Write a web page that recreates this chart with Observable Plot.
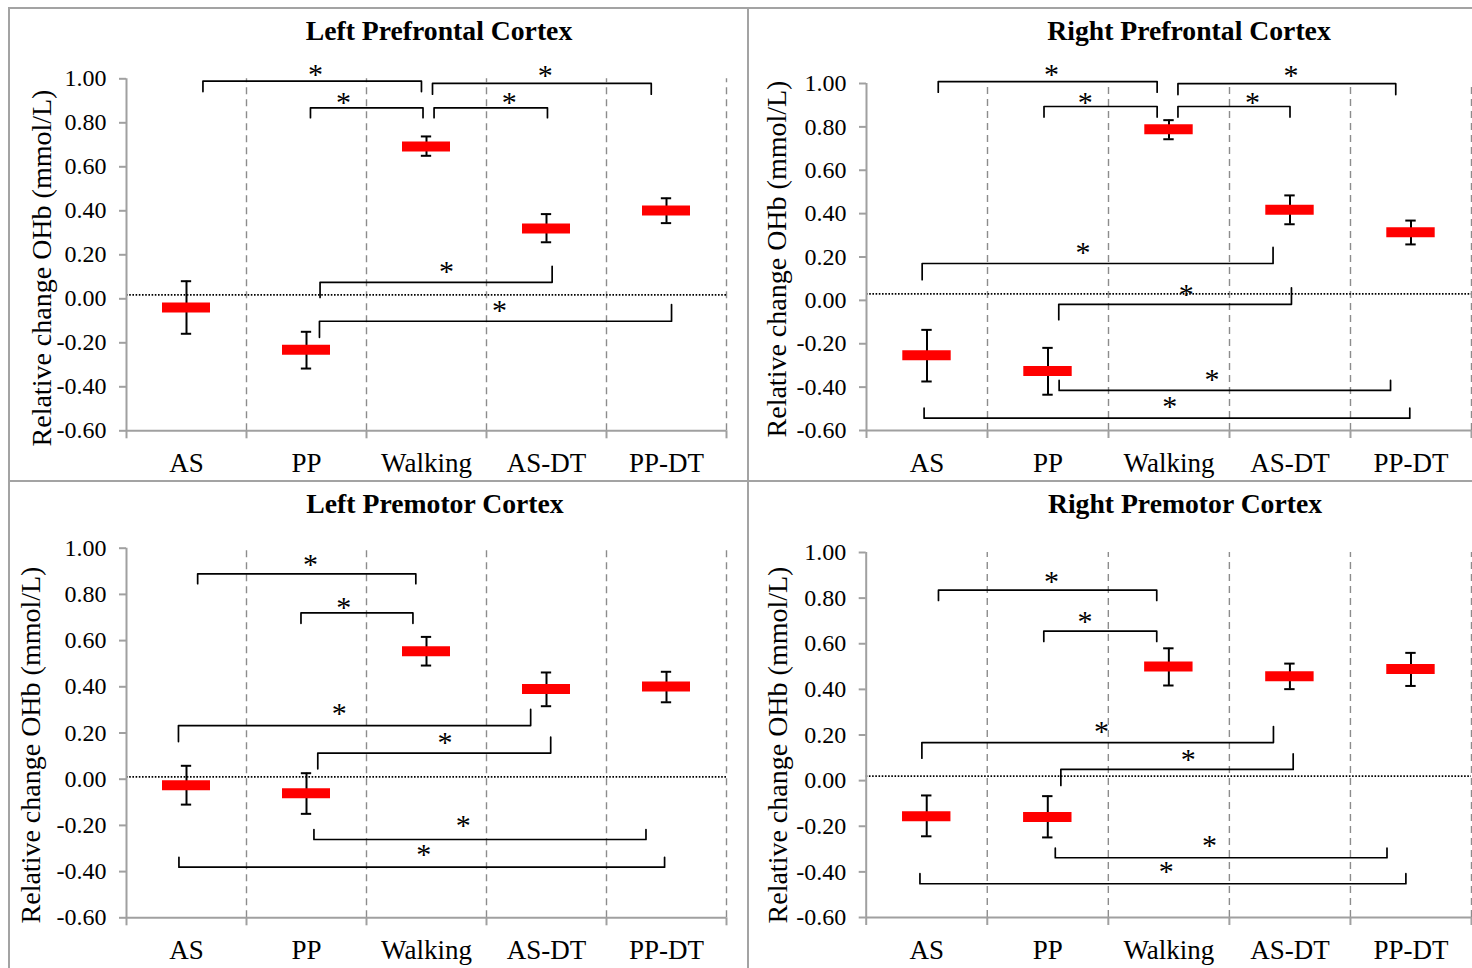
<!DOCTYPE html>
<html>
<head>
<meta charset="utf-8">
<script src="https://cdn.jsdelivr.net/npm/d3@7"></script>
<script src="https://cdn.jsdelivr.net/npm/@observablehq/plot@0.6"></script>
<style>
  html, body { margin: 0; padding: 0; background: #ffffff; }
  body { width: 1472px; height: 968px; overflow: hidden; position: relative; font-family: "Liberation Serif", "Times New Roman", serif; }
  .abs { position: absolute; left: 0; top: 0; transform-origin: 0 0; white-space: nowrap; color: #000; }
  .line { position: absolute; background: #a3a3a3; }
  svg { position: absolute; }
</style>
</head>
<body>
<script>
// ---------------- DATA ----------------
const categories = ["AS", "PP", "Walking", "AS-DT", "PP-DT"];
const panelTitles = ["Left Prefrontal Cortex", "Right Prefrontal Cortex", "Left Premotor Cortex", "Right Premotor Cortex"];
const yLabel = "Relative change OHb (mmol/L)";
const yTicks = [-0.6, -0.4, -0.2, 0, 0.2, 0.4, 0.6, 0.8, 1.0];
const boundaries = [0, 1, 2, 3, 4, 5];

// means and error-bar ends (mmol/L)
const meanLPFC  = [-0.040, -0.232, 0.692, 0.320, 0.401];
const upperLPFC = [ 0.080, -0.150, 0.738, 0.385, 0.457];
const lowerLPFC = [-0.159, -0.317, 0.650, 0.257, 0.344];

const meanRPFC  = [-0.253, -0.326, 0.789, 0.418, 0.314];
const upperRPFC = [-0.136, -0.219, 0.831, 0.484, 0.368];
const lowerRPFC = [-0.374, -0.435, 0.743, 0.351, 0.258];

const meanLPMC  = [-0.026, -0.061, 0.554, 0.390, 0.401];
const upperLPMC = [ 0.058,  0.026, 0.616, 0.462, 0.465];
const lowerLPMC = [-0.110, -0.150, 0.492, 0.316, 0.333];

const meanRPMC  = [-0.156, -0.159, 0.500, 0.458, 0.489];
const upperRPMC = [-0.065, -0.068, 0.580, 0.513, 0.560];
const lowerRPMC = [-0.244, -0.249, 0.417, 0.401, 0.415];

// dotted reference level per panel
const baselines = [0.018, 0.03, 0.01, 0.02];

// significance brackets: [xStart, xEnd, yBar, yStartTip, yEndTip, xStar, yStar]
// x in category units (category i spans i..i+1), y in mmol/L
const bracketsLPFC = [
  [0.637, 2.458, 0.989, 0.942, 0.942, 1.575, 1.035],
  [2.550, 4.373, 0.979, 0.930, 0.930, 3.490, 1.029],
  [1.533, 2.471, 0.868, 0.823, 0.823, 1.808, 0.906],
  [2.563, 3.508, 0.868, 0.823, 0.823, 3.190, 0.906],
  [1.613, 3.547, 0.075, 0.006, 0.148, 2.667, 0.136],
  [1.608, 4.542, -0.102, -0.175, -0.026, 3.108, -0.041]
];
const bracketsRPFC = [
  [0.593, 2.402, 1.009, 0.960, 0.960, 1.529, 1.057],
  [2.574, 4.374, 0.999, 0.949, 0.949, 3.508, 1.049],
  [1.467, 2.402, 0.894, 0.845, 0.845, 1.807, 0.926],
  [2.574, 3.500, 0.894, 0.845, 0.845, 3.190, 0.926],
  [0.460, 3.360, 0.170, 0.095, 0.244, 1.790, 0.233],
  [1.589, 3.512, -0.018, -0.089, 0.058, 2.643, 0.042],
  [1.592, 4.331, -0.415, -0.369, -0.369, 2.855, -0.350],
  [0.476, 4.490, -0.543, -0.497, -0.497, 2.507, -0.477]
];
const bracketsLPMC = [
  [0.593, 2.411, 0.889, 0.846, 0.846, 1.533, 0.942],
  [1.454, 2.387, 0.720, 0.675, 0.675, 1.810, 0.755],
  [0.433, 3.368, 0.232, 0.163, 0.302, 1.773, 0.297],
  [1.594, 3.535, 0.113, 0.045, 0.182, 2.654, 0.172],
  [1.562, 4.329, -0.261, -0.218, -0.218, 2.806, -0.186],
  [0.437, 4.484, -0.381, -0.338, -0.338, 2.478, -0.313]
];
const bracketsRPMC = [
  [0.597, 2.400, 0.835, 0.790, 0.790, 1.530, 0.885],
  [1.467, 2.400, 0.655, 0.610, 0.610, 1.807, 0.711],
  [0.460, 3.364, 0.167, 0.098, 0.237, 1.944, 0.227],
  [1.608, 3.527, 0.049, -0.021, 0.117, 2.660, 0.106],
  [1.562, 4.302, -0.338, -0.296, -0.296, 2.836, -0.270],
  [0.444, 4.458, -0.452, -0.408, -0.408, 2.478, -0.383]
];

// ---------------- LAYOUT ----------------
const panels = [
  {title: panelTitles[0], mean: meanLPFC, upper: upperLPFC, lower: lowerLPFC, brackets: bracketsLPFC, baseline: baselines[0],
   left: 0, top: 0, width: 748, height: 481, mt: 78.3, mb: 50.7, ml: 126, mr: 22,
   titleX: 439, titleY: 40, labX: 51, labY: 268},
  {title: panelTitles[1], mean: meanRPFC, upper: upperRPFC, lower: lowerRPFC, brackets: bracketsRPFC, baseline: baselines[1],
   left: 748, top: 0, width: 724, height: 481, mt: 83, mb: 51, ml: 118, mr: 1,
   titleX: 1189, titleY: 40, labX: 786, labY: 259},
  {title: panelTitles[2], mean: meanLPMC, upper: upperLPMC, lower: lowerLPMC, brackets: bracketsLPMC, baseline: baselines[2],
   left: 0, top: 481, width: 748, height: 487, mt: 66.7, mb: 50.7, ml: 126, mr: 22,
   titleX: 435, titleY: 513.3, labX: 40, labY: 745},
  {title: panelTitles[3], mean: meanRPMC, upper: upperRPMC, lower: lowerRPMC, brackets: bracketsRPMC, baseline: baselines[3],
   left: 748, top: 481, width: 724, height: 487, mt: 71, mb: 51, ml: 117.7, mr: 1,
   titleX: 1185, titleY: 513.3, labX: 787, labY: 745}
];

const GRAY = "#a0a0a0";
const DASH = "#8c8c8c";
const yMin = yTicks[0], yMax = yTicks[yTicks.length - 1];
const barHalf = 0.2, capHalf = 0.043;

function placeText(txt, x, y, fs, bold, rotate) {
  const d = document.createElement("div");
  d.className = "abs";
  d.textContent = txt;
  d.style.fontSize = fs + "px";
  d.style.lineHeight = "1";
  if (bold) d.style.fontWeight = "bold";
  d.style.transform = `translate(${x}px, ${y}px)` + (rotate ? " rotate(-90deg)" : "") + " translate(-50%, -0.8375em)";
  document.body.appendChild(d);
}

function makePanel(p) {
  const rows = categories.map((c, i) => ({i, c, mean: p.mean[i], lo: p.lower[i], hi: p.upper[i]}));
  const caps = rows.flatMap(r => [{i: r.i, y: r.lo}, {i: r.i, y: r.hi}]);
  const bpts = p.brackets.flatMap((b, k) => [
    {k, x: b[0], y: b[3]}, {k, x: b[0], y: b[2]}, {k, x: b[1], y: b[2]}, {k, x: b[1], y: b[4]}
  ]);
  const stars = p.brackets.map(b => ({x: b[5], y: b[6]}));
  const svg = Plot.plot({
    width: p.width,
    height: p.height,
    marginTop: p.mt, marginBottom: p.mb, marginLeft: p.ml, marginRight: p.mr,
    x: {type: "linear", domain: [0, categories.length]},
    y: {type: "linear", domain: [yMin, yMax]},
    style: {fontFamily: "'Liberation Serif', 'Times New Roman', serif", background: "transparent", overflow: "visible", color: "black"},
    marks: [
      Plot.ruleX(boundaries.slice(1), {x: d => d, y1: () => yMin, y2: () => yMax, stroke: DASH, strokeWidth: 1.4, strokeDasharray: "7,5"}),
      Plot.ruleY([p.baseline], {y: d => d, x1: () => 0, x2: () => categories.length, stroke: "black", strokeWidth: 1.8, strokeDasharray: "1.6,1.6"}),
      Plot.ruleX([0], {x: d => d, y1: () => yMin, y2: () => yMax, stroke: GRAY, strokeWidth: 2}),
      Plot.ruleY([yMin], {y: d => d, x1: () => 0, x2: () => categories.length, stroke: GRAY, strokeWidth: 2}),
      Plot.axisY({ticks: yTicks, tickSize: 7, tickPadding: 13, tickFormat: d => d.toFixed(2), fontSize: 24, stroke: GRAY, strokeWidth: 2, fill: "black", label: null}),
      Plot.axisX({ticks: boundaries, tickSize: 8, stroke: GRAY, strokeWidth: 2, fill: "none", label: null}),
      Plot.text(categories, {x: (d, i) => i + 0.5, y: () => yMin, text: d => d, dy: 33, fontSize: 27, fill: "black", lineAnchor: "middle"}),
      Plot.line(bpts, {x: "x", y: "y", z: "k", stroke: "black", strokeWidth: 1.7}),
      Plot.text(stars, {x: "x", y: "y", text: () => "*", fontSize: 30, dy: 3, fill: "black", lineAnchor: "middle"}),
      Plot.ruleX(rows, {x: d => d.i + 0.5, y1: "lo", y2: "hi", stroke: "black", strokeWidth: 2}),
      Plot.ruleY(caps, {y: "y", x1: d => d.i + 0.5 - capHalf, x2: d => d.i + 0.5 + capHalf, stroke: "black", strokeWidth: 2}),
      Plot.ruleY(rows, {y: "mean", x1: d => d.i + 0.5 - barHalf, x2: d => d.i + 0.5 + barHalf, stroke: "#ff0000", strokeWidth: 10})
    ]
  });
  svg.style.left = p.left + "px";
  svg.style.top = p.top + "px";
  document.body.appendChild(svg);
  placeText(p.title, p.titleX, p.titleY, 27.7, true, false);
  placeText(yLabel, p.labX, p.labY, 28, false, true);
}

// panel frame lines
function hLine(x, y, w) { const d = document.createElement("div"); d.className = "line"; Object.assign(d.style, {left: x + "px", top: y + "px", width: w + "px", height: "2px"}); document.body.appendChild(d); }
function vLine(x, y, h) { const d = document.createElement("div"); d.className = "line"; Object.assign(d.style, {left: x + "px", top: y + "px", width: "2px", height: h + "px"}); document.body.appendChild(d); }
hLine(8, 7, 1464);
hLine(8, 480, 1464);
vLine(8, 7, 961);
vLine(747, 7, 961);

panels.forEach(makePanel);
</script>
</body>
</html>
